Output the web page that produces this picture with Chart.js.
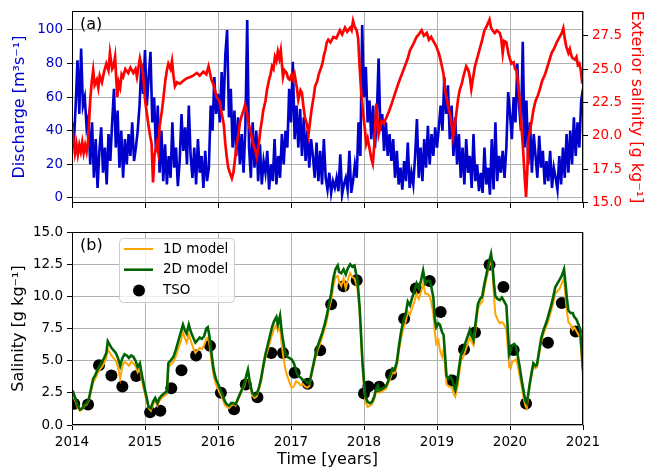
<!DOCTYPE html>
<html>
<head>
<meta charset="utf-8">
<script src="https://cdn.jsdelivr.net/npm/chart.js@4"></script>
<style>
  body { margin: 0; background: #fff; width: 646px; height: 470px; position: relative; overflow: hidden; }
  canvas { position: absolute; left: 0; }
  #chartA { top: 0; }
  #chartB { top: 215px; }
</style>
</head>
<body>
<canvas id="chartA" width="646" height="215"></canvas>
<canvas id="chartB" width="646" height="255"></canvas>
<script>
// tick labels
const yearTicks = [2014, 2015, 2016, 2017, 2018, 2019, 2020, 2021];
const dischargeTicks = [0, 20, 40, 60, 80, 100];
const extSalinityTicks = [15, 17.5, 20, 22.5, 25, 27.5];
const salinityTicks = [0, 2.5, 5, 7.5, 10, 12.5, 15];

// discharge, one value every 0.025 yr (40 per year) from 2014.0
const dischargeStart = 2014;
const dischargeStep = 0.025;
const discharge = [
  45, 32, 55, 82, 50, 89, 55, 60, 42, 48, 20, 45, 12, 35, 6, 28, 42, 15, 30, 8,
  38, 22, 45, 65, 30, 52, 18, 40, 12, 35, 20, 38, 25, 45, 22, 30, 40, 55, 80, 62,
  88, 55, 72, 87, 45, 60, 28, 55, 15, 40, 10, 32, 8, 25, 12, 45, 18, 30, 7, 22,
  50, 28, 42, 20, 55, 25, 12, 30, 8, 35, 15, 25, 6, 28, 10, 18, 55, 40, 72, 50,
  62, 45, 75, 52, 85, 100, 48, 65, 30, 52, 25, 48, 20, 38, 15, 42, 106, 30, 12, 45,
  18, 40, 10, 32, 8, 22, 15, 28, 5, 20, 10, 35, 8, 25, 12, 38, 20, 40, 30, 65,
  45, 81, 35, 55, 30, 53, 25, 48, 22, 40, 18, 35, 25, 12, 33, 10, 28, 8, 35, 12,
  5, 15, 3, 10, 6, 12, 4, 26, 2, 8, 12, 5, 28, 3, 10, 20, 12, 45, 25, 103,
  60, 78, 45, 58, 35, 55, 30, 48, 83, 40, 50, 28, 45, 25, 38, 22, 35, 12, 28, 8,
  18, 5, 22, 10, 33, 6, 15, 8, 25, 47, 12, 30, 10, 35, 18, 43, 20, 38, 25, 42,
  30, 42, 55, 40, 72, 50, 67, 35, 55, 25, 48, 20, 38, 12, 30, 8, 35, 15, 25, 6,
  38, 10, 20, 4, 15, 3, 30, 8, 18, 2, 35, 5, 45, 10, 25, 15, 28, 12, 30, 63,
  50, 35, 60, 45, 80, 55, 40, 93, 30, 58, 20, 45, 15, 38, 25, 12, 37, 18, 28, 8,
  22, 10, 28, 6, 18, 12, 5, 25, 8, 30, 12, 38, 15, 40, 20, 48, 25, 45, 30, 58,
  65
];

// exterior salinity
const extSalYears = [
  2014.00, 2014.02, 2014.04, 2014.06, 2014.08, 2014.10, 2014.12, 2014.14, 2014.16, 2014.18,
  2014.20, 2014.22, 2014.25, 2014.27, 2014.29, 2014.31, 2014.34, 2014.36, 2014.38, 2014.41,
  2014.44, 2014.47, 2014.50, 2014.52, 2014.55, 2014.57, 2014.59, 2014.62, 2014.64, 2014.66,
  2014.68, 2014.70, 2014.73, 2014.77, 2014.80, 2014.84, 2014.87, 2014.89, 2014.93, 2014.97,
  2015.00, 2015.03, 2015.05, 2015.07, 2015.09, 2015.11, 2015.13, 2015.16, 2015.18, 2015.20,
  2015.23, 2015.25, 2015.28, 2015.30, 2015.32, 2015.35, 2015.37, 2015.39, 2015.41, 2015.44,
  2015.48, 2015.52, 2015.57, 2015.62, 2015.66, 2015.71, 2015.75, 2015.80, 2015.84, 2015.87,
  2015.91, 2015.94, 2015.98,
  2016.02, 2016.05, 2016.08, 2016.10, 2016.12, 2016.14, 2016.17, 2016.19, 2016.21, 2016.23,
  2016.26, 2016.28, 2016.30, 2016.32, 2016.35, 2016.37, 2016.40, 2016.42, 2016.45, 2016.48,
  2016.51, 2016.53, 2016.56, 2016.58, 2016.60, 2016.62, 2016.65, 2016.67, 2016.70, 2016.72,
  2016.74, 2016.76, 2016.78, 2016.80, 2016.82, 2016.84, 2016.86, 2016.89, 2016.91, 2016.94,
  2016.96, 2016.98,
  2017.01, 2017.03, 2017.05, 2017.08, 2017.10, 2017.13, 2017.15, 2017.17, 2017.19, 2017.22,
  2017.24, 2017.26, 2017.28, 2017.31, 2017.33, 2017.36, 2017.38, 2017.40, 2017.43, 2017.45,
  2017.47, 2017.49, 2017.51, 2017.54, 2017.58, 2017.62, 2017.67, 2017.70, 2017.74, 2017.77,
  2017.81, 2017.83, 2017.85, 2017.87, 2017.90, 2017.92, 2017.94, 2017.96, 2017.99,
  2018.01, 2018.03, 2018.05, 2018.08, 2018.10, 2018.12, 2018.14, 2018.17, 2018.19, 2018.20,
  2018.22, 2018.24, 2018.27, 2018.31, 2018.34, 2018.38, 2018.42, 2018.47, 2018.51, 2018.56,
  2018.60, 2018.63, 2018.67, 2018.72, 2018.75, 2018.79, 2018.82, 2018.86, 2018.89, 2018.92,
  2018.96, 2018.99,
  2019.03, 2019.06, 2019.09, 2019.11, 2019.14, 2019.16, 2019.18, 2019.20, 2019.22, 2019.25,
  2019.27, 2019.29, 2019.31, 2019.34, 2019.36, 2019.38, 2019.40, 2019.43, 2019.45, 2019.47,
  2019.49, 2019.52, 2019.55, 2019.58, 2019.62, 2019.65, 2019.68, 2019.72, 2019.74, 2019.76,
  2019.79, 2019.82, 2019.86, 2019.88, 2019.90, 2019.92, 2019.95, 2019.98,
  2020.02, 2020.05, 2020.07, 2020.09, 2020.11, 2020.13, 2020.15, 2020.18, 2020.20, 2020.22,
  2020.24, 2020.25, 2020.28, 2020.30, 2020.32, 2020.35, 2020.38, 2020.41, 2020.44, 2020.48,
  2020.52, 2020.57, 2020.61, 2020.64, 2020.66, 2020.69, 2020.71, 2020.73, 2020.75, 2020.77,
  2020.80, 2020.82, 2020.84, 2020.86, 2020.89, 2020.91, 2020.93, 2020.95, 2020.97, 2020.99
];
const extSalinity = [
  20.9, 19.7, 18.7, 19.4, 18.6, 19.3, 18.8, 19.5, 18.7, 19.3,
  18.8, 19.6, 22.7, 24.0, 24.9, 23.8, 24.2, 23.6, 24.5, 24.0,
  24.8, 25.4, 24.9, 26.2, 25.0, 25.2, 25.9, 22.9, 24.0, 23.6,
  24.6, 24.4, 25.0, 24.7, 25.1, 24.7, 25.0, 24.4, 25.8, 24.8,
  22.7, 21.5, 20.7, 20.0, 19.4, 16.5, 18.5, 19.4, 18.8, 20.7,
  21.8, 22.7, 24.2, 24.9, 25.4, 25.0, 25.6, 24.5, 23.7, 24.0,
  23.9, 24.1, 24.3, 24.4, 24.5, 24.7, 24.5, 24.8, 24.6, 25.2,
  24.2, 23.8, 22.9,
  22.6, 21.7, 20.8, 19.4, 18.4, 17.6, 17.1, 16.8, 17.2, 18.1,
  19.5, 20.1, 21.0, 21.4, 21.9, 22.3, 21.6, 20.9, 20.2, 19.4,
  18.9, 18.4, 19.4, 20.4, 21.1, 21.9, 22.6, 23.4, 24.2, 24.6,
  25.2, 25.0, 25.9, 25.6, 26.3, 25.8, 26.4, 24.4, 24.9, 24.7,
  24.3, 24.2,
  24.6, 24.2, 24.6, 23.6, 22.7, 23.4, 23.2, 22.2, 21.4, 20.8,
  20.1, 21.0, 21.9, 22.9, 23.7, 24.1, 24.6, 24.9, 25.4, 26.0,
  26.4, 27.0, 27.2, 27.0, 27.4, 27.3, 27.9, 27.6, 28.1, 27.8,
  28.1, 27.9, 28.6, 28.2, 27.9, 27.3, 25.2, 23.4, 21.6,
  20.6, 19.4, 19.8, 18.9, 18.3, 17.9, 19.2, 22.4, 20.8, 20.1,
  20.6, 21.1, 20.9, 21.4, 21.8, 22.4, 23.1, 23.9, 24.5, 25.2,
  25.8, 26.4, 26.8, 27.4, 27.6, 27.9, 27.5, 27.7, 27.2, 27.4,
  27.0, 26.7,
  26.1, 25.4, 24.6, 23.4, 22.6, 22.0, 21.6, 20.8, 19.9, 21.0,
  21.9, 22.8, 23.4, 23.9, 24.4, 24.8, 25.2, 24.9, 24.4, 23.5,
  24.2, 25.2, 25.8, 26.4, 27.2, 27.9, 28.2, 28.7, 28.1, 27.9,
  27.7, 27.9, 27.7, 27.3, 26.2, 27.1, 27.0, 26.1,
  25.4, 25.5, 25.0, 24.9, 23.9, 22.9, 21.2, 18.9, 17.0, 15.4,
  17.8, 19.7, 20.6, 21.2, 21.9, 22.6, 23.0, 23.5, 24.1, 24.6,
  25.3, 26.2, 26.6, 27.0, 27.2, 27.5, 27.7, 28.05, 27.3, 26.7,
  26.2, 26.5, 26.0, 25.8, 25.7, 25.9, 25.3, 25.4, 24.9, 23.9
];

// modelled salinity (1D and 2D) at the same times
const modelYears = [
  2014.00, 2014.02, 2014.05, 2014.08, 2014.11, 2014.14, 2014.17, 2014.20, 2014.23, 2014.26,
  2014.29, 2014.32, 2014.35, 2014.38, 2014.41, 2014.44, 2014.47, 2014.49, 2014.51, 2014.54,
  2014.57, 2014.60, 2014.63, 2014.66, 2014.69, 2014.72, 2014.75, 2014.78, 2014.81, 2014.84,
  2014.87, 2014.90, 2014.93, 2014.96, 2014.99, 2015.02, 2015.05, 2015.08, 2015.11, 2015.14,
  2015.17, 2015.20, 2015.23, 2015.27, 2015.30, 2015.32, 2015.35, 2015.39, 2015.42, 2015.46,
  2015.49, 2015.52, 2015.55, 2015.57, 2015.60, 2015.63, 2015.66, 2015.69, 2015.72, 2015.75,
  2015.78, 2015.81, 2015.84, 2015.86, 2015.88, 2015.91, 2015.94, 2015.97, 2016.00, 2016.03,
  2016.06, 2016.09, 2016.12, 2016.15, 2016.18, 2016.21, 2016.24, 2016.27, 2016.30, 2016.33,
  2016.36, 2016.39, 2016.41, 2016.44, 2016.47, 2016.50, 2016.53, 2016.56, 2016.59, 2016.62,
  2016.65, 2016.68, 2016.71, 2016.74, 2016.77, 2016.80, 2016.82, 2016.85, 2016.87, 2016.89,
  2016.92, 2016.95, 2016.98, 2017.01, 2017.04, 2017.07, 2017.10, 2017.13, 2017.16, 2017.19,
  2017.22, 2017.25, 2017.28, 2017.31, 2017.34, 2017.37, 2017.40, 2017.43, 2017.46, 2017.49,
  2017.52, 2017.55, 2017.58, 2017.61, 2017.64, 2017.66, 2017.69, 2017.72, 2017.75, 2017.78,
  2017.81, 2017.84, 2017.87, 2017.89, 2017.91, 2017.94, 2017.96, 2017.98, 2018.00, 2018.02,
  2018.05, 2018.08, 2018.11, 2018.14, 2018.17, 2018.19, 2018.21, 2018.24, 2018.27, 2018.30,
  2018.33, 2018.36, 2018.39, 2018.42, 2018.45, 2018.48, 2018.51, 2018.54, 2018.57, 2018.60,
  2018.63, 2018.66, 2018.69, 2018.72, 2018.75, 2018.78, 2018.81, 2018.84, 2018.87, 2018.90,
  2018.92, 2018.95, 2018.97, 2018.99, 2019.02, 2019.04, 2019.07, 2019.09, 2019.11, 2019.13,
  2019.16, 2019.18, 2019.21, 2019.23, 2019.25, 2019.28, 2019.30, 2019.33, 2019.36, 2019.39,
  2019.42, 2019.45, 2019.48, 2019.50, 2019.53, 2019.56, 2019.59, 2019.62, 2019.65, 2019.68,
  2019.71, 2019.74, 2019.76, 2019.78, 2019.80, 2019.83, 2019.86, 2019.89, 2019.92, 2019.95,
  2019.97, 2019.99, 2020.01, 2020.03, 2020.06, 2020.08, 2020.10, 2020.13, 2020.16, 2020.19,
  2020.21, 2020.23, 2020.25, 2020.27, 2020.30, 2020.32, 2020.35, 2020.37, 2020.40, 2020.43,
  2020.46, 2020.50, 2020.53, 2020.56, 2020.59, 2020.62, 2020.65, 2020.68, 2020.71, 2020.74,
  2020.76, 2020.78, 2020.80, 2020.83, 2020.86, 2020.88, 2020.91, 2020.94, 2020.96, 2020.98,
  2021.00
];
const model2D = [
  2.3, 2.5, 2.0, 1.5, 1.2, 1.3, 1.6, 1.7, 2.0, 2.8,
  3.6, 3.9, 4.3, 4.6, 4.9, 5.2, 5.6, 6.5, 6.3, 6.0,
  5.8, 5.6, 5.2, 4.6, 5.2, 5.5, 5.4, 5.2, 5.4, 5.3,
  5.0, 4.5, 4.8, 3.8, 3.0, 2.2, 1.4, 1.3, 1.8, 2.1,
  1.7, 2.1, 2.3, 2.5, 2.6, 4.8, 5.0, 5.3, 5.8, 6.6,
  7.2, 7.8, 7.3, 7.1, 7.8, 7.2, 6.8, 6.4, 6.6, 6.8,
  6.7, 6.9, 7.5, 7.6, 7.0, 5.6, 4.3, 3.6, 3.2, 2.8,
  2.4, 1.9, 1.6, 1.5, 1.7, 1.7, 1.6, 2.0, 2.4, 2.8,
  3.2, 3.9, 4.3, 3.2, 2.5, 2.3, 2.4, 2.9, 3.6, 4.6,
  5.5, 6.2, 6.9, 7.6, 8.1, 8.4, 7.8, 8.5, 7.4, 6.6,
  5.6, 5.3, 5.2, 5.1, 4.8, 4.2, 3.8, 3.7, 3.5, 3.5,
  3.3, 3.2, 4.0, 4.8, 5.6, 6.2, 6.7, 7.2, 7.8, 8.5,
  9.4, 10.2, 11.4, 12.1, 12.4, 11.9, 11.8, 12.1, 11.7, 12.2,
  12.5, 12.3, 12.4, 11.8, 11.3, 9.2, 7.0, 4.8, 3.4, 2.2,
  1.8, 1.7, 1.8, 2.2, 2.9, 3.1, 2.7, 2.8, 2.9, 3.0,
  3.4, 3.9, 4.4, 4.3, 4.9, 6.2, 7.3, 8.1, 8.6, 9.6,
  9.3, 9.9, 10.4, 11.0, 10.6, 11.2, 12.0, 11.0, 11.2, 11.2,
  10.8, 9.9, 8.3, 7.6, 7.9, 7.8, 7.2, 7.0, 5.5, 3.8,
  3.6, 3.8, 3.5, 3.0, 2.7, 3.5, 4.4, 5.5, 5.8, 6.4,
  6.9, 7.4, 6.9, 6.6, 8.0, 9.4, 9.8, 10.0, 11.0, 11.8,
  12.6, 13.3, 12.5, 11.0, 10.0, 9.8, 9.7, 9.9, 9.6, 9.3,
  7.4, 5.5, 5.8, 6.2, 6.3, 6.1, 5.6, 4.6, 3.5, 2.5,
  1.9, 1.7, 2.4, 3.2, 4.2, 4.8, 4.6, 4.7, 5.8, 6.8,
  7.4, 8.0, 8.6, 9.2, 9.9, 10.7, 11.0, 11.3, 11.6, 12.1,
  11.0, 9.8, 8.9, 8.7, 8.7, 8.4, 8.2, 7.8, 7.4, 6.0,
  4.3
];
const model1D = [
  2.1, 2.2, 1.8, 1.3, 1.1, 1.2, 1.5, 1.6, 1.9, 2.6,
  3.3, 3.6, 4.0, 4.3, 4.5, 4.8, 5.2, 5.9, 5.7, 5.4,
  5.2, 5.0, 4.5, 3.6, 4.6, 4.9, 4.8, 4.6, 4.9, 4.8,
  4.6, 4.1, 4.4, 3.4, 2.6, 1.9, 1.3, 1.1, 1.6, 1.9,
  1.5, 1.9, 2.1, 2.3, 2.4, 4.5, 4.7, 4.9, 5.3, 6.0,
  6.5, 7.2, 6.7, 6.4, 7.0, 6.5, 6.0, 5.6, 5.8, 6.0,
  5.9, 6.2, 6.7, 6.8, 6.4, 5.0, 3.8, 3.2, 2.8, 2.4,
  2.1, 1.6, 1.4, 1.3, 1.5, 1.6, 1.5, 1.9, 2.3, 2.7,
  3.0, 3.7, 4.1, 3.0, 2.3, 2.1, 2.2, 2.7, 3.4, 4.4,
  5.2, 5.8, 6.4, 7.0, 7.5, 7.8, 7.3, 7.6, 6.4, 5.5,
  4.4, 3.8, 3.3, 2.9, 3.0, 3.4, 3.3, 3.1, 3.2, 3.0,
  2.9, 3.0, 3.8, 4.6, 5.3, 5.9, 6.3, 6.9, 7.4, 8.1,
  9.0, 9.7, 10.8, 11.5, 11.6, 11.1, 10.8, 11.4, 10.6, 11.3,
  11.8, 11.5, 11.4, 11.0, 10.6, 8.8, 6.6, 4.4, 3.0, 1.8,
  1.4, 1.5, 1.6, 2.0, 2.7, 2.9, 2.5, 2.6, 2.7, 2.8,
  3.2, 3.6, 4.1, 4.0, 4.6, 5.8, 6.8, 7.5, 8.0, 8.8,
  8.6, 9.1, 9.6, 10.2, 9.8, 10.3, 11.0, 10.2, 10.2, 10.0,
  9.6, 8.6, 7.2, 6.3, 6.6, 5.8, 5.3, 5.9, 4.6, 3.2,
  3.0, 3.0, 2.8, 2.4, 2.2, 2.9, 3.8, 5.0, 5.3, 5.8,
  6.3, 6.8, 6.4, 6.2, 7.5, 9.0, 9.4, 9.6, 10.6, 11.4,
  12.3, 12.8, 12.0, 10.0, 8.6, 8.2, 7.9, 8.0, 7.8, 7.4,
  6.0, 4.5, 4.4, 4.9, 5.0, 5.1, 4.8, 3.9, 3.0, 2.0,
  1.5, 1.3, 2.2, 3.0, 4.0, 4.6, 4.4, 4.5, 5.5, 6.5,
  7.1, 7.7, 8.2, 8.8, 9.4, 10.2, 10.4, 10.6, 11.0, 11.4,
  10.0, 8.8, 8.0, 7.8, 7.4, 7.6, 7.3, 7.0, 6.8, 5.3,
  3.8
];

// TSO observations
const tsoYears = [
  2014.03, 2014.22, 2014.37, 2014.54, 2014.69, 2014.88, 2015.07, 2015.21, 2015.36, 2015.50,
  2015.70, 2015.89, 2016.04, 2016.22, 2016.38, 2016.54, 2016.73, 2016.89, 2017.05, 2017.23,
  2017.40, 2017.55, 2017.72, 2017.90, 2018.00, 2018.06, 2018.21, 2018.37, 2018.55, 2018.71,
  2018.90, 2019.05, 2019.21, 2019.37, 2019.52, 2019.72, 2019.91, 2020.05, 2020.22, 2020.52,
  2020.71, 2020.90
];
const tsoSalinity = [
  1.65, 1.6, 4.65, 3.85, 3.0, 3.8, 1.0, 1.1, 2.85, 4.25,
  5.4, 6.15, 2.5, 1.22, 3.15, 2.15, 5.6, 5.6, 4.07, 3.2,
  5.8, 9.38, 10.78, 11.25, 2.45, 3.0, 2.97, 3.93, 8.25, 10.6,
  11.2, 8.78, 3.45, 5.87, 7.18, 12.45, 10.72, 5.82, 1.68, 6.4,
  9.49, 7.27
];

Chart.defaults.font.family = '"DejaVu Sans", sans-serif';
Chart.defaults.font.size = 13.5;
Chart.defaults.color = '#000';

function fixWidth(w) {
  return function (scale) { scale.width = w; scale.paddingTop = 0; scale.paddingBottom = 0; };
}
function fixHeight(h) {
  return function (scale) { scale.height = h; scale.paddingLeft = 0; scale.paddingRight = 0; };
}
function useTicks(list) {
  return function (scale) { scale.ticks = list.map(v => ({ value: v })); };
}

const gridStyle = { color: '#b0b0b0', lineWidth: 1, tickColor: '#000', tickLength: 5 };

const framePlugin = {
  id: 'frame',
  afterDraw(chart, args, opts) {
    const { ctx, chartArea: a } = chart;
    ctx.save();
    ctx.strokeStyle = '#000';
    ctx.lineWidth = 1;
    ctx.strokeRect(a.left + 0.5, a.top + 0.5, a.right - a.left - 1, a.bottom - a.top - 1);
    ctx.fillStyle = '#000';
    ctx.font = '16px "DejaVu Sans"';
    ctx.textBaseline = 'middle';
    ctx.fillText(opts.label, a.left + 8, a.top + 14);
    ctx.restore();
  }
};

const legendPlugin = {
  id: 'boxLegend',
  afterDraw(chart) {
    const { ctx, chartArea: a } = chart;
    const x = a.left + 47, y = a.top + 6, w = 115, h = 64;
    ctx.save();
    ctx.beginPath();
    ctx.roundRect(x + 0.5, y + 0.5, w, h, 4);
    ctx.fillStyle = 'rgba(255,255,255,0.8)';
    ctx.fill();
    ctx.strokeStyle = '#cccccc';
    ctx.lineWidth = 1;
    ctx.stroke();
    ctx.font = '13.5px "DejaVu Sans"';
    ctx.textBaseline = 'middle';
    chart.data.datasets.forEach((ds, i) => {
      const cy = y + 11 + i * 20.7;
      if (ds.showLine === false) {
        ctx.beginPath();
        ctx.arc(x + 20, cy, 6, 0, Math.PI * 2);
        ctx.fillStyle = ds.backgroundColor;
        ctx.fill();
      } else {
        ctx.beginPath();
        ctx.moveTo(x + 5, cy);
        ctx.lineTo(x + 34, cy);
        ctx.strokeStyle = ds.borderColor;
        ctx.lineWidth = ds.borderWidth;
        ctx.stroke();
      }
      ctx.fillStyle = '#000';
      ctx.fillText(ds.label, x + 44, cy);
    });
    ctx.restore();
  }
};

new Chart(document.getElementById('chartA'), {
  type: 'line',
  data: {
    datasets: [
      {
        label: 'Discharge',
        data: discharge.map((v, i) => ({ x: dischargeStart + i * dischargeStep, y: v })),
        yAxisID: 'y',
        borderColor: '#0000cd',
        borderWidth: 2.6,
        pointRadius: 0,
        order: 2
      },
      {
        label: 'Exterior salinity',
        data: extSalYears.map((x, i) => ({ x: x, y: extSalinity[i] })),
        yAxisID: 'y1',
        borderColor: '#ff0000',
        borderWidth: 2.7,
        pointRadius: 0,
        order: 1
      }
    ]
  },
  options: {
    responsive: false,
    animation: false,
    events: [],
    layout: { padding: { top: 11, left: 0, right: 0, bottom: 0 } },
    plugins: { legend: { display: false }, tooltip: { enabled: false }, frame: { label: '(a)' } },
    scales: {
      x: {
        type: 'linear',
        min: 2014,
        max: 2021,
        afterBuildTicks: useTicks(yearTicks),
        afterFit: fixHeight(12),
        ticks: { display: false },
        grid: gridStyle,
        border: { display: false }
      },
      y: {
        position: 'left',
        min: -3,
        max: 111.3,
        afterBuildTicks: useTicks(dischargeTicks),
        afterFit: fixWidth(72),
        ticks: { color: '#0000cd', padding: 4, callback: v => String(v) },
        grid: gridStyle,
        border: { display: false },
        title: {
          display: true,
          text: 'Discharge [m³s⁻¹]',
          color: '#0000cd',
          font: { size: 16 },
          padding: { top: 10, bottom: 0 }
        }
      },
      y1: {
        position: 'right',
        min: 14.95,
        max: 29.35,
        afterBuildTicks: useTicks(extSalinityTicks),
        afterFit: fixWidth(63),
        ticks: { color: '#ff0000', padding: 4, callback: v => v.toFixed(1) },
        grid: { drawOnChartArea: false, tickColor: '#000', tickLength: 5 },
        border: { display: false },
        title: {
          display: true,
          text: 'Exterior salinity [g kg⁻¹]',
          color: '#ff0000',
          font: { size: 16 },
          padding: { top: 0, bottom: 0 }
        }
      }
    }
  },
  plugins: [framePlugin]
});

new Chart(document.getElementById('chartB'), {
  type: 'line',
  data: {
    datasets: [
      {
        label: '1D model',
        data: modelYears.map((x, i) => ({ x: x, y: model1D[i] })),
        borderColor: '#ffa500',
        borderWidth: 2,
        pointRadius: 0,
        order: 2
      },
      {
        label: '2D model',
        data: modelYears.map((x, i) => ({ x: x, y: model2D[i] })),
        borderColor: '#006400',
        borderWidth: 2.6,
        pointRadius: 0,
        order: 1
      },
      {
        label: 'TSO',
        data: tsoYears.map((x, i) => ({ x: x, y: tsoSalinity[i] })),
        showLine: false,
        backgroundColor: '#000',
        borderColor: '#000',
        pointRadius: 6,
        pointBorderWidth: 0,
        order: 3
      }
    ]
  },
  options: {
    responsive: false,
    animation: false,
    events: [],
    layout: { padding: { top: 17, left: 0, right: 63, bottom: 0 } },
    plugins: { legend: { display: false }, tooltip: { enabled: false }, frame: { label: '(b)' } },
    scales: {
      x: {
        type: 'linear',
        min: 2014,
        max: 2021,
        afterBuildTicks: useTicks(yearTicks),
        afterFit: fixHeight(45),
        ticks: { padding: 4, callback: v => String(v) },
        grid: gridStyle,
        border: { display: false },
        title: {
          display: true,
          text: 'Time [years]',
          font: { size: 16 },
          padding: { top: 0, bottom: 1 }
        }
      },
      y: {
        min: 0,
        max: 15,
        afterBuildTicks: useTicks(salinityTicks),
        afterFit: fixWidth(72),
        ticks: { padding: 4, callback: v => v.toFixed(1) },
        grid: gridStyle,
        border: { display: false },
        title: {
          display: true,
          text: 'Salinity [g kg⁻¹]',
          font: { size: 16 },
          padding: { top: 9, bottom: 0 }
        }
      }
    }
  },
  plugins: [framePlugin, legendPlugin]
});
</script>
</body>
</html>
